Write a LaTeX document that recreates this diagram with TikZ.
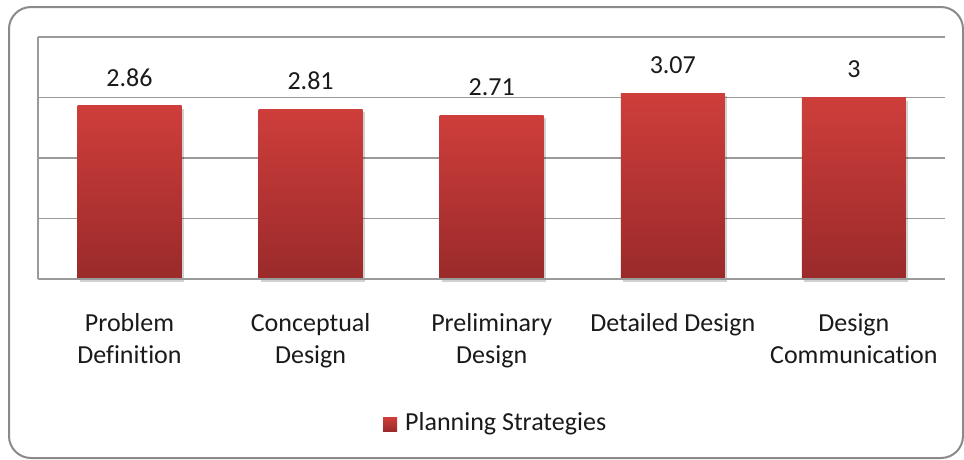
\documentclass[tikz,border=0pt]{standalone}
\usepackage{fontspec}
\setmainfont[Ligatures=NoCommon]{Carlito}
\usetikzlibrary{shadows}
\definecolor{bartop}{HTML}{CE3E3B}
\definecolor{barbot}{HTML}{9A2A2A}
\definecolor{gridc}{HTML}{9A9A9A}
\definecolor{framec}{HTML}{8A8A8A}
\definecolor{txt}{HTML}{1A1A1A}
\tikzset{
  bar/.style={top color=bartop, bottom color=barbot, draw=none,
    drop shadow={shadow xshift=2pt, shadow yshift=-3pt, fill=black, opacity=0.18}},
  val/.style={font=\fontsize{26}{32}\selectfont, text=txt, inner sep=0pt},
  cat/.style={font=\fontsize{26}{32}\selectfont, text=txt, align=center, inner sep=0pt, anchor=north},
  gridl/.style={draw=gridc, line width=1.3pt},
}
\begin{document}
\begin{tikzpicture}[x=1pt,y=-1pt]
\useasboundingbox (0,0) rectangle (964,459);
\fill[white] (0,0) rectangle (964,459);
\draw[framec, line width=2pt, rounded corners=22pt] (9,7) rectangle (963,458);
% grid
\foreach \v in {0,1,2,3,4} {
  \draw[gridl] (38,{279-60.5*\v}) -- (945,{279-60.5*\v});
}
\draw[gridl] (38,37) -- (38,279);
% bars
\foreach \i/\c/\v/\lab in {1/129.5/2.86/2.86, 2/310.6/2.81/2.81, 3/491.7/2.71/2.71, 4/672.8/3.07/3.07, 5/853.9/3/3} {
  \path[bar] ({\c-52},{279-60.5*\v}) rectangle ({\c+52},279);
  \node[val] (v\i) at (\c,{279-60.5*\v-28}) {\lab};
}
\draw[gridl] (38,279) -- (945,279);
% category labels
\node[cat] (c1) at (129.5,313) {Problem\\Definition};
\node[cat] (c2) at (310.6,313) {Conceptual\\Design};
\node[cat] (c3) at (491.7,313) {Preliminary\\Design};
\node[cat] (c4) at (672.8,313) {Detailed Design};
\node[cat] (c5) at (853.9,313) {Design\\Communication};
% legend
\path[top color=bartop, bottom color=barbot] (383,417) rectangle (397,431);
\node[val, anchor=west] (leg) at (405,424) {Planning Strategies};
\end{tikzpicture}
\end{document}
